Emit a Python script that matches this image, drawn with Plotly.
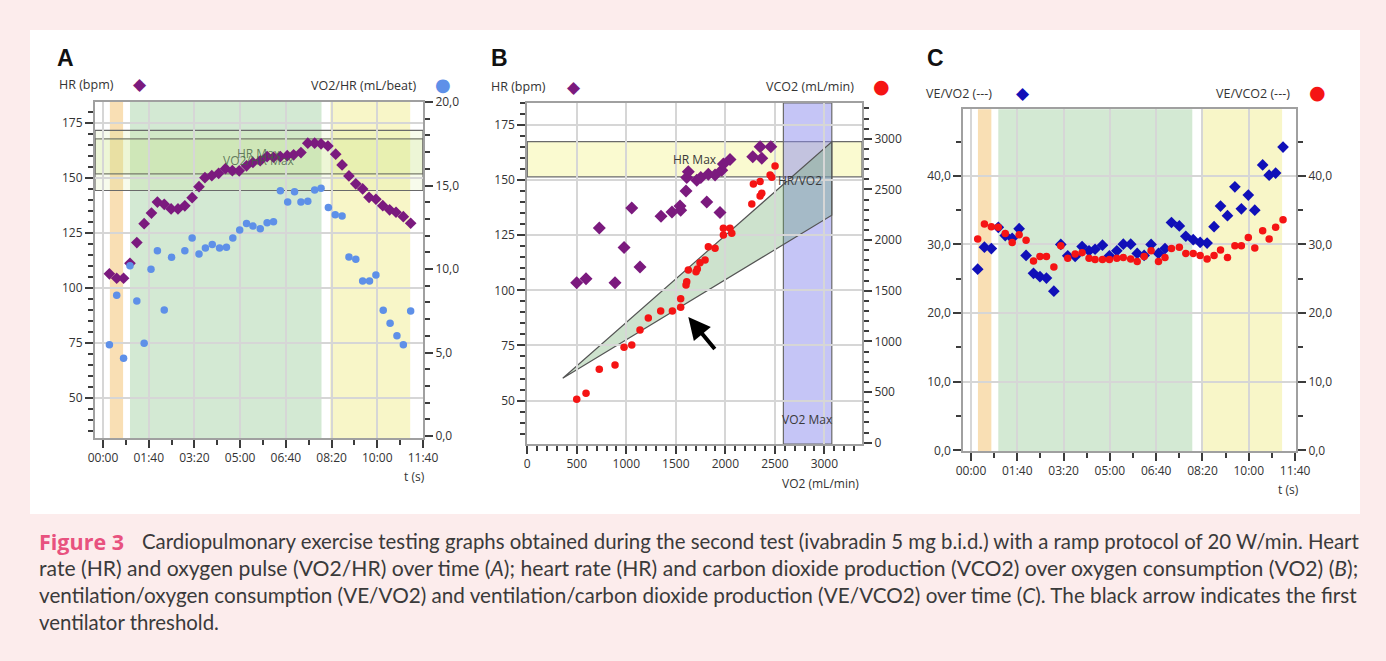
import plotly.graph_objects as go

# ---------------- DATA ----------------
# Panel A: HR (bpm) and VO2/HR (mL/beat) over time (s)
A_T_HR = [14, 30, 45, 59, 74, 90, 106, 119, 134, 149, 164, 179, 195, 210, 223, 238, 253, 268, 283,
          298, 314, 328, 344, 359, 373, 388, 403, 417, 433, 448, 463, 477, 492, 509, 523, 538, 553,
          568, 582, 597, 612, 627, 641, 657, 673]
A_HR = [106.4, 104.4, 104.4, 111.2, 120.6, 129.2, 134.0, 139.0, 138.0, 135.9, 135.9, 137.3, 141.0,
        146.0, 150.1, 151.0, 152.1, 154.2, 153.3, 153.2, 155.5, 157.0, 157.8, 159.7, 159.4, 159.7,
        160.1, 160.5, 161.5, 165.8, 165.8, 165.5, 164.5, 160.8, 155.9, 150.9, 147.3, 145.0, 141.2,
        140.3, 137.4, 135.5, 134.4, 132.4, 129.4]
A_T_O2P = [14, 30, 45, 59, 74, 90, 105, 119, 134, 150, 179, 195, 210, 224, 239, 255, 270, 284, 299,
           314, 328, 344, 359, 373, 388, 404, 419, 433, 448, 463, 477, 493, 508, 523, 538, 553, 568,
           583, 597, 613, 628, 643, 657, 673]
A_O2P = [5.47, 8.43, 4.65, 10.2, 8.08, 5.55, 9.98, 11.1, 7.54, 10.7, 11.1, 11.86, 10.9, 11.26,
         11.46, 11.26, 11.3, 11.86, 12.34, 12.73, 12.57, 12.41, 12.77, 12.83, 14.69, 14.01, 14.63,
         14.01, 14.05, 14.73, 14.83, 13.69, 13.25, 13.17, 10.72, 10.58, 9.28, 9.28, 9.64, 7.53,
         6.75, 6.01, 5.47, 7.49]

# Panel B: HR and VCO2 over VO2 (mL/min)
B_VO2_HR = [499, 593, 727, 886, 977, 1055, 1138, 1350, 1461, 1542, 1549, 1603, 1610, 1626, 1711,
            1752, 1812, 1828, 1896, 1946, 1964, 1980, 2047, 2277, 2351, 2368, 2459]
B_HR = [103.5, 105.3, 128.3, 103.5, 119.4, 137.4, 110.6, 133.6, 135.6, 138.3, 136.4, 145.1, 151.2,
        153.8, 150.0, 151.2, 140.1, 152.7, 152.3, 135.3, 154.5, 157.3, 159.4, 160.6, 165.1, 159.9,
        165.1]
B_VO2_CO2 = [499, 593, 727, 886, 977, 1055, 1138, 1222, 1347, 1465, 1549, 1549, 1603, 1610, 1626,
             1704, 1717, 1744, 1795, 1828, 1896, 1980, 2047, 1980, 2065, 2267, 2351, 2368, 2283,
             2351, 2452, 2469, 2502]
B_VCO2 = [428, 488, 725, 767, 942, 964, 1113, 1231, 1300, 1300, 1337, 1421, 1557, 1589, 1705, 1688,
          1715, 1777, 1804, 1935, 1919, 2116, 2116, 2050, 2067, 2356, 2435, 2462, 2554, 2577, 2643,
          2620, 2731]

# Panel C: VE/VO2 and VE/VCO2 over time (s)
C_T = [14.5, 29, 44, 59, 74, 89, 104, 119, 135, 149, 163, 179, 194, 209, 225, 240, 255, 268, 284,
       299, 315, 329, 345, 359, 374, 389, 405, 419, 433, 450, 464, 480, 495, 510, 525, 539, 554,
       570, 584, 599, 613, 630, 644, 658, 674]
C_VEVO2 = [26.4, 29.6, 29.4, 32.5, 31.3, 30.9, 32.3, 28.4, 25.8, 25.3, 25.1, 23.2, 30.0, 28.35,
           28.25, 29.7, 29.07, 29.3, 29.9, 28.35, 29.07, 30.04, 30.04, 28.7, 28.4, 30.0, 28.7, 29.4,
           33.2, 32.7, 31.2, 30.7, 30.3, 30.2, 32.6, 35.6, 34.2, 38.4, 35.2, 37.2, 35.0, 41.6, 40.1,
           40.4, 44.2]
C_VEVCO2 = [30.8, 33.0, 32.6, 32.5, 31.6, 30.3, 31.4, 30.6, 27.6, 28.25, 28.25, 26.7, 29.8, 28.0,
            28.6, 28.8, 28.0, 27.8, 27.8, 27.8, 28.0, 28.1, 27.9, 27.5, 28.25, 29.1, 27.5, 28.1,
            29.4, 29.6, 28.7, 28.7, 28.4, 27.9, 28.4, 29.2, 28.1, 29.8, 29.8, 31.0, 29.5, 32.0,
            30.8, 32.5, 33.6]

# Test phases (s) and reference zones
PHASE_REST = (15, 44)
PHASE_RAMP = (59, 478)
PHASE_RECOV = (497, 672)
A_HRMAX_BAND = (151.8, 167.7)
A_O2PMAX_BAND = (14.7, 18.3)
B_HRMAX_BAND = (151.5, 167.5)
B_VO2MAX_BAND = (2586, 3075)
B_HRVO2_APEX = (358, 60.1)
B_HRVO2_END_VO2 = 3075
B_HRVO2_END_HR = (134.1, 167.4)
B_ARROW_TIP = (1626, 87.9)
B_ARROW_TAIL = (1906, 72.7)

# Tick labels
T_TICKS = [0, 100, 200, 300, 400, 500, 600, 700]
T_LABELS = ["00:00", "01:40", "03:20", "05:00", "06:40", "08:20", "10:00", "11:40"]
HR_TICKS = [50, 75, 100, 125, 150, 175]
O2P_TICKS = [0, 5, 10, 15, 20]
O2P_LABELS = ["0,0", "5,0", "10,0", "15,0", "20,0"]
VO2_TICKS = [0, 500, 1000, 1500, 2000, 2500, 3000]
VCO2_TICKS = [0, 500, 1000, 1500, 2000, 2500, 3000]
EQ_TICKS = [0, 10, 20, 30, 40]
EQ_LABELS = ["0,0", "10,0", "20,0", "30,0", "40,0"]

CAPTION_HEAD = "Figure 3"
CAPTION = [
    "Cardiopulmonary exercise testing graphs obtained during the second test (ivabradin 5 mg b.i.d.) with a ramp protocol of 20 W/min. Heart",
    "rate (HR) and oxygen pulse (VO2/HR) over time (<i>A</i>); heart rate (HR) and carbon dioxide production (VCO2) over oxygen consumption (VO2) (<i>B</i>);",
    "ventilation/oxygen consumption (VE/VO2) and ventilation/carbon dioxide production (VE/VCO2) over time (<i>C</i>). The black arrow indicates the first",
    "ventilator threshold.",
]

# ---------------- STYLE ----------------
W, H = 1386, 661
PURPLE = "#7b1a7e"
LBLUE = "#5e90e8"
RED = "#f51414"
DBLUE = "#1010b8"
AXC = "#a0a0a0"
TICKC = "#3c3c3c"
GRIDC = "#d6d6d6"
BANDLINE = "#6a6a6a"
FONT = "Open Sans"
TXT = "#333333"
BG = "#fcecec"


def fx(p):
    return p / W


def fy(p):
    return 1 - p / H


def xaxis(dom, rng, tv, tt, minor, anchor):
    return dict(domain=dom, range=rng, tickmode="array", tickvals=tv, ticktext=tt,
                ticks="outside", ticklen=8, tickwidth=2, tickcolor=TICKC, automargin=False,
                showline=True, linecolor=AXC, linewidth=2, mirror=True,
                showgrid=True, gridcolor=GRIDC, gridwidth=1.5, zeroline=False,
                minor=dict(tickmode="linear", tick0=0, dtick=minor, ticks="outside", ticklen=5,
                           tickwidth=2, tickcolor=TICKC, showgrid=False),
                tickfont=dict(family=FONT, size=12, color=TXT), anchor=anchor, fixedrange=True)


def yaxis(dom, rng, tv, tt, minor, anchor, side="left", overlay=None, grid=True):
    d = dict(domain=dom, range=rng, tickmode="array", tickvals=tv, ticktext=tt,
             ticks="outside", ticklen=8, tickwidth=2, tickcolor=TICKC, automargin=False,
             showline=True, linecolor=AXC, linewidth=2, side=side,
             showgrid=grid, gridcolor=GRIDC, gridwidth=1.5, zeroline=False,
             minor=dict(tickmode="linear", tick0=0, dtick=minor, ticks="outside", ticklen=5,
                        tickwidth=2, tickcolor=TICKC, showgrid=False),
             tickfont=dict(family=FONT, size=12, color=TXT), anchor=anchor, fixedrange=True)
    if overlay:
        d["overlaying"] = overlay
    return d


fig = go.Figure()

# Panel A traces
fig.add_trace(go.Scatter(x=A_T_HR, y=A_HR, mode="markers", xaxis="x", yaxis="y",
                         marker=dict(symbol="diamond", size=9, color=PURPLE)))
fig.add_trace(go.Scatter(x=A_T_O2P, y=A_O2P, mode="markers", xaxis="x", yaxis="y2",
                         marker=dict(symbol="circle", size=7.5, color=LBLUE)))
# Panel B traces
fig.add_trace(go.Scatter(x=B_VO2_HR, y=B_HR, mode="markers", xaxis="x2", yaxis="y3",
                         marker=dict(symbol="diamond", size=10, color=PURPLE)))
fig.add_trace(go.Scatter(x=B_VO2_CO2, y=B_VCO2, mode="markers", xaxis="x2", yaxis="y4",
                         marker=dict(symbol="circle", size=7.5, color=RED)))
# Panel C traces
fig.add_trace(go.Scatter(x=C_T, y=C_VEVO2, mode="markers", xaxis="x3", yaxis="y5",
                         marker=dict(symbol="diamond", size=9, color=DBLUE)))
fig.add_trace(go.Scatter(x=C_T, y=C_VEVCO2, mode="markers", xaxis="x3", yaxis="y6",
                         marker=dict(symbol="circle", size=7.5, color=RED)))

shapes = []
# white card behind charts
shapes.append(dict(type="rect", xref="paper", yref="paper", x0=fx(30), x1=fx(1360), y0=fy(514),
                   y1=fy(30), fillcolor="white", line=dict(width=0), layer="below"))

# phase bands for A (x) and C (x3)
for xr, yr in (("x", "y domain"), ("x3", "y5 domain")):
    for (a, b), col in ((PHASE_REST, "#f9dfb4"), (PHASE_RAMP, "#d3e9d3"), (PHASE_RECOV, "#f8f6c8")):
        shapes.append(dict(type="rect", xref=xr, yref=yr, x0=a, x1=b, y0=0, y1=1,
                           fillcolor=col, line=dict(width=0), layer="below"))

# A horizontal max bands
shapes.append(dict(type="rect", xref="x domain", yref="y", x0=0, x1=1, y0=A_HRMAX_BAND[0],
                   y1=A_HRMAX_BAND[1], fillcolor="rgba(200,228,130,0.2)",
                   line=dict(width=1.2, color=BANDLINE), layer="below"))
shapes.append(dict(type="rect", xref="x domain", yref="y2", x0=0, x1=1, y0=A_O2PMAX_BAND[0],
                   y1=A_O2PMAX_BAND[1], fillcolor="rgba(200,228,130,0.15)",
                   line=dict(width=1.2, color=BANDLINE), layer="below"))

# B bands
shapes.append(dict(type="rect", xref="x2 domain", yref="y3", x0=0, x1=1, y0=B_HRMAX_BAND[0],
                   y1=B_HRMAX_BAND[1], fillcolor="#fafad0",
                   line=dict(width=1.2, color=BANDLINE), layer="below"))
shapes.append(dict(type="rect", xref="x2", yref="y3 domain", x0=B_VO2MAX_BAND[0],
                   x1=B_VO2MAX_BAND[1], y0=0, y1=1, fillcolor="rgba(140,140,238,0.5)",
                   line=dict(width=1.2, color=BANDLINE), layer="below"))
path = "M {0},{1} L {2},{3} L {2},{4} Z".format(B_HRVO2_APEX[0], B_HRVO2_APEX[1], B_HRVO2_END_VO2,
                                                B_HRVO2_END_HR[1], B_HRVO2_END_HR[0])
shapes.append(dict(type="path", xref="x2", yref="y3", path=path,
                   fillcolor="rgba(100,165,100,0.32)", line=dict(width=1.2, color="#555555"),
                   layer="below"))

ann = []


def txt(x, y, s, size=12, color=TXT, xanchor="left", family=FONT, **kw):
    ann.append(dict(x=fx(x), y=fy(y), xref="paper", yref="paper", text=s, showarrow=False,
                    xanchor=xanchor, yanchor="middle", font=dict(size=size, color=color,
                                                                   family=family), **kw))


# panel letters
for x, L in ((55, "A"), (489, "B"), (925, "C")):
    txt(x, 58, "<b>%s</b>" % L, size=23, color="#111111", family="Liberation Sans")

# legends
txt(57, 84, "HR (bpm)", size=12.5)
txt(140, 84, "◆", size=17, color=PURPLE, xanchor="center", family="DejaVu Sans")
txt(419, 85, "VO2/HR (mL/beat)", xanchor="right", size=12.5)
txt(443, 84, "●", size=18, color=LBLUE, xanchor="center", family="DejaVu Sans")
txt(489, 87, "HR (bpm)", size=12.5)
txt(574, 87, "◆", size=17, color=PURPLE, xanchor="center", family="DejaVu Sans")
txt(856, 87, "VCO2 (mL/min)", xanchor="right", size=12.5)
txt(881, 86, "●", size=19, color=RED, xanchor="center", family="DejaVu Sans")
txt(924, 93, "VE/VO2 (---)", size=12.5)
txt(1023, 93, "◆", size=17, color=DBLUE, xanchor="center", family="DejaVu Sans")
txt(1292, 93, "VE/VCO2 (---)", xanchor="right", size=12.5)
txt(1317, 92, "●", size=19, color=RED, xanchor="center", family="DejaVu Sans")

# axis titles
txt(414, 477, "t (s)", xanchor="center")
txt(820, 483, "VO2 (mL/min)", xanchor="center")
txt(1288, 489, "t (s)", xanchor="center")

# band labels
ann.append(dict(x=341, y=sum(A_O2PMAX_BAND) / 2, xref="x", yref="y2", text="VO2/HR Max",
                showarrow=False, font=dict(size=12, color="rgba(70,95,70,0.8)", family=FONT)))
ann.append(dict(x=341, y=sum(A_HRMAX_BAND) / 2 + 1.5, xref="x", yref="y", text="HR Max",
                showarrow=False, font=dict(size=12, color="rgba(70,95,70,0.8)", family=FONT)))
ann.append(dict(x=1694, y=sum(B_HRMAX_BAND) / 2, xref="x2", yref="y3", text="HR Max",
                showarrow=False, font=dict(size=12, color="#3a3a3a", family=FONT)))
ann.append(dict(x=2755, y=150, xref="x2", yref="y3", text="HR/VO2",
                showarrow=False, font=dict(size=12, color="#3a3a3a", family=FONT)))
ann.append(dict(x=sum(B_VO2MAX_BAND) / 2, y=41.4, xref="x2", yref="y3", text="VO2 Max",
                showarrow=False, font=dict(size=12, color="#3a3a3a", family=FONT)))
# arrow (first ventilatory threshold)
ann.append(dict(x=B_ARROW_TIP[0], y=B_ARROW_TIP[1], xref="x2", yref="y3",
                ax=B_ARROW_TAIL[0], ay=B_ARROW_TAIL[1], axref="x2", ayref="y3", text="",
                showarrow=True, arrowhead=2, arrowsize=1.1, arrowwidth=4, arrowcolor="black"))

# caption (line starts and sizes chosen so lines 1-3 fill the justified width)
txt(37, 541, "<b>%s</b>" % CAPTION_HEAD, size=21.5, color="#e8527f", family="Open Sans")
CAP_X = [140, 37, 37, 37]
CAP_SIZE = [20.4, 21.15, 20.7, 20.4]
for i, line in enumerate(CAPTION):
    txt(CAP_X[i], 541 + i * 27, line, size=CAP_SIZE[i], color="#3a3a3a", family="Lato")

fig.update_layout(
    width=W, height=H, margin=dict(l=0, r=0, t=0, b=0, pad=0, autoexpand=False),
    paper_bgcolor=BG, plot_bgcolor="white", showlegend=False,
    font=dict(family=FONT, color=TXT),
    xaxis=xaxis([fx(95), fx(423)], [-17.5, 700], T_TICKS, T_LABELS, 50, "y"),
    yaxis=yaxis([fy(438), fy(102)], [31.8, 184.5], HR_TICKS, [str(v) for v in HR_TICKS], 5, "x"),
    yaxis2=yaxis([fy(438), fy(102)], [-0.12, 20.0], O2P_TICKS, O2P_LABELS, 1, "x", side="right",
                 overlay="y", grid=False),
    xaxis2=xaxis([fx(527.3), fx(862)], [0, 3380], VO2_TICKS, [str(v) for v in VO2_TICKS], 100, "y3"),
    yaxis3=yaxis([fy(444), fy(103)], [30.3, 185], HR_TICKS, [str(v) for v in HR_TICKS], 5, "x2"),
    yaxis4=yaxis([fy(444), fy(103)], [-13, 3353], VCO2_TICKS, [str(v) for v in VCO2_TICKS], 100,
                 "x2", side="right", overlay="y3", grid=False),
    xaxis3=xaxis([fx(963.3), fx(1296)], [-16.6, 702], T_TICKS, T_LABELS, 50, "y5"),
    yaxis5=yaxis([fy(451), fy(109.3)], [-0.1, 49.7], EQ_TICKS, EQ_LABELS, 5, "x3"),
    yaxis6=yaxis([fy(451), fy(109.3)], [-0.1, 49.7], EQ_TICKS, EQ_LABELS, 5, "x3", side="right",
                 overlay="y5", grid=False),
    shapes=shapes, annotations=ann,
)

POST = ("var s=document.documentElement.style, b=document.body.style;"
        "s.margin='0';s.padding='0';s.background='%s';s.overflow='hidden';"
        "b.margin='0';b.padding='0';b.background='%s';b.overflow='hidden';" % (BG, BG))

fig.write_html("out.html", config={"displayModeBar": False}, post_script=POST)
